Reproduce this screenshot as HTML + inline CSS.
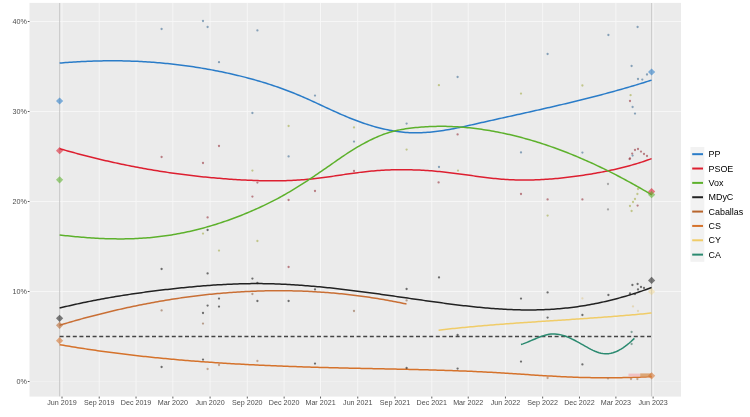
<!DOCTYPE html><html><head><meta charset="utf-8"><style>html,body{margin:0;padding:0;background:#fff;overflow:hidden}svg{display:block}text{font-family:"Liberation Sans",sans-serif}</style></head><body>
<svg width="750" height="417" viewBox="0 0 750 417">
<rect width="750" height="417" fill="#fff"/>
<rect x="29.5" y="2.9" width="651.5" height="393.7" fill="#EBEBEB"/>
<defs><clipPath id="pc"><rect x="29.5" y="2.9" width="651.5" height="393.7"/></clipPath></defs>
<g clip-path="url(#pc)">
<line x1="29.5" x2="681.0" y1="381.50" y2="381.50" stroke="#F1F1F1" stroke-width="0.9"/>
<line x1="29.5" x2="681.0" y1="291.50" y2="291.50" stroke="#F7F7F7" stroke-width="0.9"/>
<line x1="29.5" x2="681.0" y1="201.50" y2="201.50" stroke="#F7F7F7" stroke-width="0.9"/>
<line x1="29.5" x2="681.0" y1="111.50" y2="111.50" stroke="#F7F7F7" stroke-width="0.9"/>
<line x1="29.5" x2="681.0" y1="21.50" y2="21.50" stroke="#F7F7F7" stroke-width="0.9"/>
<line x1="62.00" x2="62.00" y1="2.9" y2="396.6" stroke="#F7F7F7" stroke-width="0.9"/>
<line x1="99.22" x2="99.22" y1="2.9" y2="396.6" stroke="#F7F7F7" stroke-width="0.9"/>
<line x1="136.04" x2="136.04" y1="2.9" y2="396.6" stroke="#F7F7F7" stroke-width="0.9"/>
<line x1="172.86" x2="172.86" y1="2.9" y2="396.6" stroke="#F7F7F7" stroke-width="0.9"/>
<line x1="210.08" x2="210.08" y1="2.9" y2="396.6" stroke="#F7F7F7" stroke-width="0.9"/>
<line x1="247.31" x2="247.31" y1="2.9" y2="396.6" stroke="#F7F7F7" stroke-width="0.9"/>
<line x1="284.13" x2="284.13" y1="2.9" y2="396.6" stroke="#F7F7F7" stroke-width="0.9"/>
<line x1="320.54" x2="320.54" y1="2.9" y2="396.6" stroke="#F7F7F7" stroke-width="0.9"/>
<line x1="357.76" x2="357.76" y1="2.9" y2="396.6" stroke="#F7F7F7" stroke-width="0.9"/>
<line x1="394.99" x2="394.99" y1="2.9" y2="396.6" stroke="#F7F7F7" stroke-width="0.9"/>
<line x1="431.80" x2="431.80" y1="2.9" y2="396.6" stroke="#F7F7F7" stroke-width="0.9"/>
<line x1="468.22" x2="468.22" y1="2.9" y2="396.6" stroke="#F7F7F7" stroke-width="0.9"/>
<line x1="505.44" x2="505.44" y1="2.9" y2="396.6" stroke="#F7F7F7" stroke-width="0.9"/>
<line x1="542.66" x2="542.66" y1="2.9" y2="396.6" stroke="#F7F7F7" stroke-width="0.9"/>
<line x1="579.48" x2="579.48" y1="2.9" y2="396.6" stroke="#F7F7F7" stroke-width="0.9"/>
<line x1="615.90" x2="615.90" y1="2.9" y2="396.6" stroke="#F7F7F7" stroke-width="0.9"/>
<line x1="653.12" x2="653.12" y1="2.9" y2="396.6" stroke="#F7F7F7" stroke-width="0.9"/>
<line x1="59.60" x2="59.60" y1="2.9" y2="396.6" stroke="#C0C0C0" stroke-width="0.8"/>
<line x1="651.60" x2="651.60" y1="2.9" y2="396.6" stroke="#C0C0C0" stroke-width="0.8"/>
<line x1="59.6" x2="651.6" y1="336.5" y2="336.5" stroke="#454545" stroke-width="1.45" stroke-dasharray="4 2.6"/>
<path d="M59.60,63.12 L61.60,62.94 L63.60,62.78 L65.60,62.62 L67.60,62.46 L69.60,62.32 L71.60,62.18 L73.60,62.04 L75.60,61.91 L77.60,61.79 L79.60,61.68 L81.60,61.57 L83.60,61.47 L85.60,61.38 L87.60,61.29 L89.60,61.21 L91.60,61.14 L93.60,61.07 L95.60,61.01 L97.60,60.96 L99.60,60.91 L101.60,60.88 L103.60,60.84 L105.60,60.82 L107.60,60.80 L109.60,60.79 L111.60,60.78 L113.60,60.79 L115.60,60.80 L117.60,60.81 L119.60,60.84 L121.60,60.87 L123.60,60.91 L125.60,60.95 L127.60,61.00 L129.60,61.06 L131.60,61.13 L133.60,61.20 L135.60,61.28 L137.60,61.37 L139.60,61.47 L141.60,61.57 L143.60,61.68 L145.60,61.80 L147.60,61.92 L149.60,62.05 L151.60,62.19 L153.60,62.34 L155.60,62.49 L157.60,62.66 L159.60,62.82 L161.60,63.00 L163.60,63.18 L165.60,63.38 L167.60,63.57 L169.60,63.78 L171.60,63.99 L173.60,64.22 L175.60,64.45 L177.60,64.68 L179.60,64.93 L181.60,65.18 L183.60,65.44 L185.60,65.70 L187.60,65.98 L189.60,66.26 L191.60,66.55 L193.60,66.85 L195.60,67.16 L197.60,67.47 L199.60,67.79 L201.60,68.12 L203.60,68.46 L205.60,68.80 L207.60,69.15 L209.60,69.51 L211.60,69.88 L213.60,70.26 L215.60,70.64 L217.60,71.04 L219.60,71.44 L221.60,71.84 L223.60,72.26 L225.60,72.69 L227.60,73.12 L229.60,73.56 L231.60,74.01 L233.60,74.46 L235.60,74.93 L237.60,75.40 L239.60,75.89 L241.60,76.38 L243.60,76.88 L245.60,77.39 L247.60,77.91 L249.60,78.45 L251.60,78.99 L253.60,79.54 L255.60,80.10 L257.60,80.67 L259.60,81.26 L261.60,81.85 L263.60,82.46 L265.60,83.08 L267.60,83.70 L269.60,84.35 L271.60,85.00 L273.60,85.67 L275.60,86.34 L277.60,87.03 L279.60,87.74 L281.60,88.46 L283.60,89.19 L285.60,89.93 L287.60,90.69 L289.60,91.46 L291.60,92.24 L293.60,93.04 L295.60,93.86 L297.60,94.69 L299.60,95.53 L301.60,96.39 L303.60,97.26 L305.60,98.14 L307.60,99.03 L309.60,99.93 L311.60,100.84 L313.60,101.76 L315.60,102.68 L317.60,103.60 L319.60,104.53 L321.60,105.46 L323.60,106.39 L325.60,107.32 L327.60,108.24 L329.60,109.17 L331.60,110.09 L333.60,111.00 L335.60,111.90 L337.60,112.80 L339.60,113.69 L341.60,114.57 L343.60,115.43 L345.60,116.28 L347.60,117.12 L349.60,117.94 L351.60,118.75 L353.60,119.54 L355.60,120.31 L357.60,121.06 L359.60,121.79 L361.60,122.50 L363.60,123.20 L365.60,123.87 L367.60,124.52 L369.60,125.15 L371.60,125.76 L373.60,126.35 L375.60,126.92 L377.60,127.46 L379.60,127.98 L381.60,128.47 L383.60,128.94 L385.60,129.39 L387.60,129.81 L389.60,130.20 L391.60,130.57 L393.60,130.91 L395.60,131.23 L397.60,131.52 L399.60,131.78 L401.60,132.01 L403.60,132.21 L405.60,132.38 L407.60,132.52 L409.60,132.64 L411.60,132.72 L413.60,132.77 L415.60,132.79 L417.60,132.78 L419.60,132.74 L421.60,132.68 L423.60,132.59 L425.60,132.47 L427.60,132.33 L429.60,132.16 L431.60,131.97 L433.60,131.76 L435.60,131.53 L437.60,131.28 L439.60,131.01 L441.60,130.72 L443.60,130.41 L445.60,130.09 L447.60,129.75 L449.60,129.40 L451.60,129.03 L453.60,128.66 L455.60,128.27 L457.60,127.87 L459.60,127.46 L461.60,127.04 L463.60,126.62 L465.60,126.18 L467.60,125.75 L469.60,125.30 L471.60,124.86 L473.60,124.41 L475.60,123.96 L477.60,123.51 L479.60,123.05 L481.60,122.60 L483.60,122.15 L485.60,121.70 L487.60,121.26 L489.60,120.81 L491.60,120.36 L493.60,119.92 L495.60,119.47 L497.60,119.03 L499.60,118.58 L501.60,118.14 L503.60,117.70 L505.60,117.25 L507.60,116.81 L509.60,116.37 L511.60,115.92 L513.60,115.48 L515.60,115.04 L517.60,114.59 L519.60,114.15 L521.60,113.70 L523.60,113.26 L525.60,112.81 L527.60,112.37 L529.60,111.92 L531.60,111.47 L533.60,111.03 L535.60,110.58 L537.60,110.13 L539.60,109.67 L541.60,109.22 L543.60,108.77 L545.60,108.31 L547.60,107.85 L549.60,107.40 L551.60,106.94 L553.60,106.47 L555.60,106.01 L557.60,105.55 L559.60,105.08 L561.60,104.61 L563.60,104.14 L565.60,103.66 L567.60,103.19 L569.60,102.71 L571.60,102.23 L573.60,101.75 L575.60,101.26 L577.60,100.77 L579.60,100.28 L581.60,99.79 L583.60,99.29 L585.60,98.79 L587.60,98.29 L589.60,97.78 L591.60,97.28 L593.60,96.76 L595.60,96.25 L597.60,95.73 L599.60,95.21 L601.60,94.68 L603.60,94.15 L605.60,93.62 L607.60,93.08 L609.60,92.54 L611.60,91.99 L613.60,91.45 L615.60,90.89 L617.60,90.34 L619.60,89.77 L621.60,89.21 L623.60,88.64 L625.60,88.06 L627.60,87.48 L629.60,86.90 L631.60,86.31 L633.60,85.72 L635.60,85.12 L637.60,84.51 L639.60,83.90 L641.60,83.29 L643.60,82.67 L645.60,82.05 L647.60,81.41 L649.60,80.78 L651.60,80.14" fill="none" stroke="#2A7CC8" stroke-width="1.5" stroke-linecap="butt" stroke-linejoin="round"/>
<path d="M59.60,148.63 L61.60,149.21 L63.60,149.79 L65.60,150.36 L67.60,150.93 L69.60,151.49 L71.60,152.04 L73.60,152.59 L75.60,153.14 L77.60,153.67 L79.60,154.21 L81.60,154.74 L83.60,155.26 L85.60,155.78 L87.60,156.29 L89.60,156.79 L91.60,157.29 L93.60,157.79 L95.60,158.28 L97.60,158.76 L99.60,159.24 L101.60,159.72 L103.60,160.18 L105.60,160.65 L107.60,161.10 L109.60,161.56 L111.60,162.00 L113.60,162.44 L115.60,162.88 L117.60,163.31 L119.60,163.74 L121.60,164.16 L123.60,164.57 L125.60,164.98 L127.60,165.39 L129.60,165.78 L131.60,166.18 L133.60,166.57 L135.60,166.95 L137.60,167.33 L139.60,167.70 L141.60,168.07 L143.60,168.43 L145.60,168.79 L147.60,169.14 L149.60,169.48 L151.60,169.82 L153.60,170.16 L155.60,170.49 L157.60,170.82 L159.60,171.14 L161.60,171.45 L163.60,171.76 L165.60,172.07 L167.60,172.37 L169.60,172.66 L171.60,172.95 L173.60,173.23 L175.60,173.51 L177.60,173.79 L179.60,174.06 L181.60,174.32 L183.60,174.58 L185.60,174.83 L187.60,175.08 L189.60,175.32 L191.60,175.56 L193.60,175.79 L195.60,176.02 L197.60,176.25 L199.60,176.46 L201.60,176.68 L203.60,176.88 L205.60,177.09 L207.60,177.29 L209.60,177.48 L211.60,177.67 L213.60,177.85 L215.60,178.03 L217.60,178.20 L219.60,178.37 L221.60,178.53 L223.60,178.69 L225.60,178.84 L227.60,178.99 L229.60,179.13 L231.60,179.27 L233.60,179.40 L235.60,179.53 L237.60,179.66 L239.60,179.77 L241.60,179.89 L243.60,179.99 L245.60,180.10 L247.60,180.19 L249.60,180.28 L251.60,180.36 L253.60,180.44 L255.60,180.51 L257.60,180.57 L259.60,180.63 L261.60,180.68 L263.60,180.72 L265.60,180.75 L267.60,180.78 L269.60,180.80 L271.60,180.81 L273.60,180.81 L275.60,180.80 L277.60,180.78 L279.60,180.76 L281.60,180.72 L283.60,180.68 L285.60,180.63 L287.60,180.56 L289.60,180.49 L291.60,180.41 L293.60,180.31 L295.60,180.21 L297.60,180.09 L299.60,179.97 L301.60,179.83 L303.60,179.68 L305.60,179.52 L307.60,179.35 L309.60,179.17 L311.60,178.97 L313.60,178.76 L315.60,178.54 L317.60,178.31 L319.60,178.07 L321.60,177.81 L323.60,177.55 L325.60,177.28 L327.60,177.00 L329.60,176.72 L331.60,176.43 L333.60,176.13 L335.60,175.83 L337.60,175.54 L339.60,175.23 L341.60,174.93 L343.60,174.63 L345.60,174.34 L347.60,174.04 L349.60,173.75 L351.60,173.46 L353.60,173.18 L355.60,172.91 L357.60,172.64 L359.60,172.38 L361.60,172.14 L363.60,171.90 L365.60,171.67 L367.60,171.46 L369.60,171.26 L371.60,171.08 L373.60,170.90 L375.60,170.74 L377.60,170.59 L379.60,170.45 L381.60,170.32 L383.60,170.21 L385.60,170.11 L387.60,170.02 L389.60,169.94 L391.60,169.87 L393.60,169.82 L395.60,169.77 L397.60,169.74 L399.60,169.72 L401.60,169.71 L403.60,169.71 L405.60,169.72 L407.60,169.75 L409.60,169.78 L411.60,169.83 L413.60,169.88 L415.60,169.95 L417.60,170.03 L419.60,170.12 L421.60,170.22 L423.60,170.33 L425.60,170.45 L427.60,170.58 L429.60,170.72 L431.60,170.87 L433.60,171.03 L435.60,171.20 L437.60,171.38 L439.60,171.57 L441.60,171.77 L443.60,171.98 L445.60,172.20 L447.60,172.43 L449.60,172.67 L451.60,172.91 L453.60,173.16 L455.60,173.42 L457.60,173.69 L459.60,173.95 L461.60,174.23 L463.60,174.50 L465.60,174.78 L467.60,175.05 L469.60,175.33 L471.60,175.61 L473.60,175.88 L475.60,176.16 L477.60,176.43 L479.60,176.69 L481.60,176.95 L483.60,177.21 L485.60,177.46 L487.60,177.70 L489.60,177.94 L491.60,178.16 L493.60,178.38 L495.60,178.59 L497.60,178.78 L499.60,178.96 L501.60,179.13 L503.60,179.29 L505.60,179.43 L507.60,179.56 L509.60,179.67 L511.60,179.77 L513.60,179.85 L515.60,179.92 L517.60,179.97 L519.60,180.01 L521.60,180.04 L523.60,180.05 L525.60,180.05 L527.60,180.04 L529.60,180.01 L531.60,179.97 L533.60,179.92 L535.60,179.86 L537.60,179.78 L539.60,179.69 L541.60,179.60 L543.60,179.48 L545.60,179.36 L547.60,179.23 L549.60,179.09 L551.60,178.93 L553.60,178.77 L555.60,178.59 L557.60,178.40 L559.60,178.21 L561.60,178.00 L563.60,177.79 L565.60,177.57 L567.60,177.33 L569.60,177.09 L571.60,176.84 L573.60,176.58 L575.60,176.31 L577.60,176.04 L579.60,175.76 L581.60,175.46 L583.60,175.17 L585.60,174.86 L587.60,174.55 L589.60,174.23 L591.60,173.90 L593.60,173.56 L595.60,173.22 L597.60,172.86 L599.60,172.50 L601.60,172.12 L603.60,171.74 L605.60,171.35 L607.60,170.94 L609.60,170.53 L611.60,170.10 L613.60,169.66 L615.60,169.21 L617.60,168.75 L619.60,168.27 L621.60,167.78 L623.60,167.28 L625.60,166.76 L627.60,166.23 L629.60,165.69 L631.60,165.13 L633.60,164.55 L635.60,163.96 L637.60,163.35 L639.60,162.73 L641.60,162.09 L643.60,161.44 L645.60,160.76 L647.60,160.07 L649.60,159.36 L651.60,158.63" fill="none" stroke="#DD1F30" stroke-width="1.5" stroke-linecap="butt" stroke-linejoin="round"/>
<path d="M59.60,234.95 L61.60,235.18 L63.60,235.41 L65.60,235.63 L67.60,235.85 L69.60,236.06 L71.60,236.26 L73.60,236.46 L75.60,236.65 L77.60,236.84 L79.60,237.02 L81.60,237.19 L83.60,237.35 L85.60,237.51 L87.60,237.66 L89.60,237.80 L91.60,237.94 L93.60,238.06 L95.60,238.18 L97.60,238.29 L99.60,238.39 L101.60,238.48 L103.60,238.57 L105.60,238.64 L107.60,238.71 L109.60,238.76 L111.60,238.81 L113.60,238.85 L115.60,238.87 L117.60,238.89 L119.60,238.90 L121.60,238.89 L123.60,238.88 L125.60,238.85 L127.60,238.82 L129.60,238.77 L131.60,238.71 L133.60,238.64 L135.60,238.56 L137.60,238.46 L139.60,238.36 L141.60,238.24 L143.60,238.11 L145.60,237.97 L147.60,237.81 L149.60,237.64 L151.60,237.46 L153.60,237.27 L155.60,237.06 L157.60,236.84 L159.60,236.60 L161.60,236.35 L163.60,236.09 L165.60,235.81 L167.60,235.52 L169.60,235.22 L171.60,234.90 L173.60,234.57 L175.60,234.22 L177.60,233.86 L179.60,233.49 L181.60,233.10 L183.60,232.70 L185.60,232.28 L187.60,231.85 L189.60,231.41 L191.60,230.96 L193.60,230.49 L195.60,230.00 L197.60,229.51 L199.60,229.00 L201.60,228.47 L203.60,227.93 L205.60,227.38 L207.60,226.82 L209.60,226.24 L211.60,225.65 L213.60,225.05 L215.60,224.43 L217.60,223.80 L219.60,223.15 L221.60,222.49 L223.60,221.82 L225.60,221.14 L227.60,220.44 L229.60,219.73 L231.60,219.00 L233.60,218.27 L235.60,217.52 L237.60,216.75 L239.60,215.98 L241.60,215.19 L243.60,214.38 L245.60,213.57 L247.60,212.74 L249.60,211.89 L251.60,211.04 L253.60,210.17 L255.60,209.29 L257.60,208.39 L259.60,207.48 L261.60,206.55 L263.60,205.61 L265.60,204.65 L267.60,203.68 L269.60,202.69 L271.60,201.68 L273.60,200.66 L275.60,199.61 L277.60,198.55 L279.60,197.47 L281.60,196.37 L283.60,195.25 L285.60,194.11 L287.60,192.95 L289.60,191.78 L291.60,190.58 L293.60,189.38 L295.60,188.15 L297.60,186.91 L299.60,185.66 L301.60,184.39 L303.60,183.12 L305.60,181.82 L307.60,180.52 L309.60,179.21 L311.60,177.89 L313.60,176.55 L315.60,175.21 L317.60,173.85 L319.60,172.49 L321.60,171.12 L323.60,169.74 L325.60,168.35 L327.60,166.96 L329.60,165.56 L331.60,164.15 L333.60,162.75 L335.60,161.35 L337.60,159.96 L339.60,158.57 L341.60,157.20 L343.60,155.84 L345.60,154.50 L347.60,153.19 L349.60,151.89 L351.60,150.62 L353.60,149.38 L355.60,148.16 L357.60,146.97 L359.60,145.81 L361.60,144.68 L363.60,143.57 L365.60,142.50 L367.60,141.46 L369.60,140.45 L371.60,139.47 L373.60,138.52 L375.60,137.61 L377.60,136.73 L379.60,135.88 L381.60,135.08 L383.60,134.32 L385.60,133.60 L387.60,132.93 L389.60,132.31 L391.60,131.73 L393.60,131.20 L395.60,130.72 L397.60,130.27 L399.60,129.86 L401.60,129.48 L403.60,129.14 L405.60,128.82 L407.60,128.53 L409.60,128.27 L411.60,128.02 L413.60,127.79 L415.60,127.58 L417.60,127.39 L419.60,127.21 L421.60,127.05 L423.60,126.90 L425.60,126.78 L427.60,126.66 L429.60,126.57 L431.60,126.49 L433.60,126.42 L435.60,126.38 L437.60,126.34 L439.60,126.33 L441.60,126.32 L443.60,126.34 L445.60,126.37 L447.60,126.41 L449.60,126.47 L451.60,126.54 L453.60,126.63 L455.60,126.74 L457.60,126.85 L459.60,126.98 L461.60,127.13 L463.60,127.29 L465.60,127.47 L467.60,127.65 L469.60,127.86 L471.60,128.07 L473.60,128.30 L475.60,128.54 L477.60,128.80 L479.60,129.07 L481.60,129.35 L483.60,129.64 L485.60,129.95 L487.60,130.27 L489.60,130.60 L491.60,130.95 L493.60,131.30 L495.60,131.67 L497.60,132.06 L499.60,132.45 L501.60,132.86 L503.60,133.28 L505.60,133.71 L507.60,134.15 L509.60,134.60 L511.60,135.07 L513.60,135.55 L515.60,136.04 L517.60,136.54 L519.60,137.05 L521.60,137.58 L523.60,138.12 L525.60,138.67 L527.60,139.23 L529.60,139.80 L531.60,140.38 L533.60,140.98 L535.60,141.59 L537.60,142.20 L539.60,142.83 L541.60,143.47 L543.60,144.12 L545.60,144.79 L547.60,145.46 L549.60,146.15 L551.60,146.84 L553.60,147.55 L555.60,148.27 L557.60,149.00 L559.60,149.74 L561.60,150.49 L563.60,151.25 L565.60,152.02 L567.60,152.81 L569.60,153.60 L571.60,154.41 L573.60,155.22 L575.60,156.05 L577.60,156.88 L579.60,157.73 L581.60,158.58 L583.60,159.45 L585.60,160.33 L587.60,161.22 L589.60,162.12 L591.60,163.02 L593.60,163.94 L595.60,164.87 L597.60,165.81 L599.60,166.76 L601.60,167.71 L603.60,168.68 L605.60,169.66 L607.60,170.65 L609.60,171.65 L611.60,172.65 L613.60,173.67 L615.60,174.70 L617.60,175.73 L619.60,176.78 L621.60,177.83 L623.60,178.90 L625.60,179.97 L627.60,181.06 L629.60,182.15 L631.60,183.25 L633.60,184.36 L635.60,185.48 L637.60,186.61 L639.60,187.75 L641.60,188.90 L643.60,190.05 L645.60,191.22 L647.60,192.39 L649.60,193.58 L651.60,194.77" fill="none" stroke="#5DB12C" stroke-width="1.5" stroke-linecap="butt" stroke-linejoin="round"/>
<path d="M59.60,308.01 L61.60,307.53 L63.60,307.05 L65.60,306.58 L67.60,306.11 L69.60,305.65 L71.60,305.20 L73.60,304.75 L75.60,304.31 L77.60,303.87 L79.60,303.44 L81.60,303.02 L83.60,302.60 L85.60,302.18 L87.60,301.77 L89.60,301.37 L91.60,300.97 L93.60,300.58 L95.60,300.19 L97.60,299.81 L99.60,299.44 L101.60,299.06 L103.60,298.70 L105.60,298.34 L107.60,297.98 L109.60,297.63 L111.60,297.28 L113.60,296.94 L115.60,296.61 L117.60,296.28 L119.60,295.95 L121.60,295.63 L123.60,295.31 L125.60,294.99 L127.60,294.69 L129.60,294.38 L131.60,294.08 L133.60,293.79 L135.60,293.49 L137.60,293.21 L139.60,292.92 L141.60,292.65 L143.60,292.37 L145.60,292.10 L147.60,291.83 L149.60,291.57 L151.60,291.31 L153.60,291.06 L155.60,290.81 L157.60,290.56 L159.60,290.32 L161.60,290.08 L163.60,289.84 L165.60,289.61 L167.60,289.38 L169.60,289.15 L171.60,288.93 L173.60,288.71 L175.60,288.49 L177.60,288.28 L179.60,288.07 L181.60,287.87 L183.60,287.66 L185.60,287.46 L187.60,287.27 L189.60,287.08 L191.60,286.89 L193.60,286.71 L195.60,286.53 L197.60,286.35 L199.60,286.18 L201.60,286.02 L203.60,285.86 L205.60,285.70 L207.60,285.55 L209.60,285.40 L211.60,285.26 L213.60,285.12 L215.60,284.99 L217.60,284.87 L219.60,284.74 L221.60,284.63 L223.60,284.52 L225.60,284.41 L227.60,284.32 L229.60,284.22 L231.60,284.14 L233.60,284.06 L235.60,283.98 L237.60,283.91 L239.60,283.85 L241.60,283.80 L243.60,283.75 L245.60,283.71 L247.60,283.67 L249.60,283.64 L251.60,283.62 L253.60,283.61 L255.60,283.60 L257.60,283.60 L259.60,283.61 L261.60,283.62 L263.60,283.64 L265.60,283.67 L267.60,283.71 L269.60,283.75 L271.60,283.80 L273.60,283.86 L275.60,283.93 L277.60,284.00 L279.60,284.08 L281.60,284.16 L283.60,284.25 L285.60,284.35 L287.60,284.45 L289.60,284.56 L291.60,284.68 L293.60,284.80 L295.60,284.92 L297.60,285.06 L299.60,285.19 L301.60,285.34 L303.60,285.49 L305.60,285.64 L307.60,285.80 L309.60,285.96 L311.60,286.13 L313.60,286.31 L315.60,286.49 L317.60,286.67 L319.60,286.86 L321.60,287.05 L323.60,287.25 L325.60,287.45 L327.60,287.65 L329.60,287.86 L331.60,288.08 L333.60,288.29 L335.60,288.51 L337.60,288.74 L339.60,288.97 L341.60,289.20 L343.60,289.43 L345.60,289.67 L347.60,289.91 L349.60,290.16 L351.60,290.40 L353.60,290.65 L355.60,290.91 L357.60,291.16 L359.60,291.42 L361.60,291.68 L363.60,291.94 L365.60,292.20 L367.60,292.47 L369.60,292.74 L371.60,293.01 L373.60,293.28 L375.60,293.56 L377.60,293.83 L379.60,294.11 L381.60,294.39 L383.60,294.67 L385.60,294.95 L387.60,295.23 L389.60,295.51 L391.60,295.80 L393.60,296.08 L395.60,296.37 L397.60,296.65 L399.60,296.94 L401.60,297.22 L403.60,297.51 L405.60,297.80 L407.60,298.08 L409.60,298.37 L411.60,298.66 L413.60,298.94 L415.60,299.23 L417.60,299.52 L419.60,299.80 L421.60,300.09 L423.60,300.37 L425.60,300.65 L427.60,300.93 L429.60,301.21 L431.60,301.49 L433.60,301.77 L435.60,302.05 L437.60,302.32 L439.60,302.59 L441.60,302.86 L443.60,303.13 L445.60,303.40 L447.60,303.66 L449.60,303.92 L451.60,304.17 L453.60,304.43 L455.60,304.68 L457.60,304.92 L459.60,305.17 L461.60,305.40 L463.60,305.64 L465.60,305.87 L467.60,306.09 L469.60,306.32 L471.60,306.53 L473.60,306.74 L475.60,306.95 L477.60,307.15 L479.60,307.35 L481.60,307.54 L483.60,307.72 L485.60,307.90 L487.60,308.07 L489.60,308.23 L491.60,308.39 L493.60,308.55 L495.60,308.69 L497.60,308.83 L499.60,308.96 L501.60,309.08 L503.60,309.20 L505.60,309.31 L507.60,309.41 L509.60,309.50 L511.60,309.59 L513.60,309.66 L515.60,309.73 L517.60,309.79 L519.60,309.84 L521.60,309.88 L523.60,309.91 L525.60,309.93 L527.60,309.94 L529.60,309.95 L531.60,309.94 L533.60,309.92 L535.60,309.89 L537.60,309.85 L539.60,309.81 L541.60,309.75 L543.60,309.68 L545.60,309.59 L547.60,309.50 L549.60,309.39 L551.60,309.28 L553.60,309.15 L555.60,309.01 L557.60,308.86 L559.60,308.69 L561.60,308.51 L563.60,308.32 L565.60,308.12 L567.60,307.91 L569.60,307.68 L571.60,307.44 L573.60,307.18 L575.60,306.92 L577.60,306.64 L579.60,306.35 L581.60,306.05 L583.60,305.73 L585.60,305.40 L587.60,305.06 L589.60,304.71 L591.60,304.34 L593.60,303.96 L595.60,303.57 L597.60,303.17 L599.60,302.75 L601.60,302.32 L603.60,301.88 L605.60,301.42 L607.60,300.96 L609.60,300.48 L611.60,299.99 L613.60,299.48 L615.60,298.96 L617.60,298.43 L619.60,297.89 L621.60,297.34 L623.60,296.77 L625.60,296.19 L627.60,295.60 L629.60,294.99 L631.60,294.37 L633.60,293.74 L635.60,293.10 L637.60,292.44 L639.60,291.77 L641.60,291.09 L643.60,290.40 L645.60,289.69 L647.60,288.97 L649.60,288.24 L651.60,287.50" fill="none" stroke="#222222" stroke-width="1.5" stroke-linecap="butt" stroke-linejoin="round"/>
<path d="M59.60,325.22 L61.60,324.62 L63.60,324.02 L65.60,323.43 L67.60,322.85 L69.60,322.27 L71.60,321.69 L73.60,321.12 L75.60,320.56 L77.60,320.00 L79.60,319.44 L81.60,318.89 L83.60,318.34 L85.60,317.80 L87.60,317.27 L89.60,316.73 L91.60,316.21 L93.60,315.69 L95.60,315.17 L97.60,314.66 L99.60,314.15 L101.60,313.65 L103.60,313.15 L105.60,312.66 L107.60,312.18 L109.60,311.69 L111.60,311.22 L113.60,310.75 L115.60,310.28 L117.60,309.82 L119.60,309.36 L121.60,308.91 L123.60,308.47 L125.60,308.03 L127.60,307.59 L129.60,307.16 L131.60,306.73 L133.60,306.31 L135.60,305.90 L137.60,305.49 L139.60,305.09 L141.60,304.69 L143.60,304.29 L145.60,303.91 L147.60,303.52 L149.60,303.15 L151.60,302.77 L153.60,302.41 L155.60,302.05 L157.60,301.69 L159.60,301.34 L161.60,300.99 L163.60,300.65 L165.60,300.32 L167.60,299.99 L169.60,299.67 L171.60,299.35 L173.60,299.04 L175.60,298.73 L177.60,298.43 L179.60,298.13 L181.60,297.84 L183.60,297.56 L185.60,297.28 L187.60,297.01 L189.60,296.74 L191.60,296.48 L193.60,296.22 L195.60,295.97 L197.60,295.72 L199.60,295.48 L201.60,295.25 L203.60,295.02 L205.60,294.80 L207.60,294.58 L209.60,294.37 L211.60,294.16 L213.60,293.97 L215.60,293.77 L217.60,293.58 L219.60,293.40 L221.60,293.23 L223.60,293.05 L225.60,292.89 L227.60,292.73 L229.60,292.58 L231.60,292.43 L233.60,292.29 L235.60,292.16 L237.60,292.03 L239.60,291.90 L241.60,291.79 L243.60,291.68 L245.60,291.57 L247.60,291.47 L249.60,291.38 L251.60,291.29 L253.60,291.21 L255.60,291.13 L257.60,291.07 L259.60,291.00 L261.60,290.95 L263.60,290.90 L265.60,290.85 L267.60,290.81 L269.60,290.78 L271.60,290.76 L273.60,290.74 L275.60,290.72 L277.60,290.71 L279.60,290.71 L281.60,290.72 L283.60,290.73 L285.60,290.75 L287.60,290.77 L289.60,290.80 L291.60,290.84 L293.60,290.88 L295.60,290.93 L297.60,290.99 L299.60,291.05 L301.60,291.12 L303.60,291.19 L305.60,291.27 L307.60,291.36 L309.60,291.45 L311.60,291.56 L313.60,291.66 L315.60,291.78 L317.60,291.90 L319.60,292.02 L321.60,292.16 L323.60,292.30 L325.60,292.44 L327.60,292.59 L329.60,292.75 L331.60,292.92 L333.60,293.09 L335.60,293.27 L337.60,293.46 L339.60,293.65 L341.60,293.85 L343.60,294.05 L345.60,294.27 L347.60,294.49 L349.60,294.71 L351.60,294.94 L353.60,295.18 L355.60,295.43 L357.60,295.68 L359.60,295.94 L361.60,296.21 L363.60,296.48 L365.60,296.76 L367.60,297.05 L369.60,297.34 L371.60,297.64 L373.60,297.95 L375.60,298.27 L377.60,298.59 L379.60,298.92 L381.60,299.25 L383.60,299.59 L385.60,299.94 L387.60,300.30 L389.60,300.66 L391.60,301.03 L393.60,301.41 L395.60,301.79 L397.60,302.19 L399.60,302.58 L401.60,302.99 L403.60,303.40 L405.60,303.82 L406.50,304.01" fill="none" stroke="#C96F35" stroke-width="1.5" stroke-linecap="butt" stroke-linejoin="round"/>
<path d="M59.60,344.67 L61.60,345.01 L63.60,345.36 L65.60,345.69 L67.60,346.03 L69.60,346.36 L71.60,346.69 L73.60,347.01 L75.60,347.33 L77.60,347.65 L79.60,347.96 L81.60,348.27 L83.60,348.58 L85.60,348.88 L87.60,349.18 L89.60,349.48 L91.60,349.78 L93.60,350.07 L95.60,350.36 L97.60,350.64 L99.60,350.92 L101.60,351.20 L103.60,351.48 L105.60,351.75 L107.60,352.02 L109.60,352.29 L111.60,352.55 L113.60,352.81 L115.60,353.07 L117.60,353.33 L119.60,353.58 L121.60,353.83 L123.60,354.07 L125.60,354.32 L127.60,354.56 L129.60,354.80 L131.60,355.03 L133.60,355.26 L135.60,355.49 L137.60,355.72 L139.60,355.94 L141.60,356.17 L143.60,356.38 L145.60,356.60 L147.60,356.81 L149.60,357.02 L151.60,357.23 L153.60,357.44 L155.60,357.64 L157.60,357.84 L159.60,358.04 L161.60,358.23 L163.60,358.43 L165.60,358.62 L167.60,358.81 L169.60,358.99 L171.60,359.17 L173.60,359.36 L175.60,359.53 L177.60,359.71 L179.60,359.88 L181.60,360.05 L183.60,360.22 L185.60,360.39 L187.60,360.56 L189.60,360.72 L191.60,360.88 L193.60,361.04 L195.60,361.19 L197.60,361.34 L199.60,361.50 L201.60,361.64 L203.60,361.79 L205.60,361.94 L207.60,362.08 L209.60,362.22 L211.60,362.36 L213.60,362.50 L215.60,362.63 L217.60,362.76 L219.60,362.90 L221.60,363.02 L223.60,363.15 L225.60,363.28 L227.60,363.40 L229.60,363.52 L231.60,363.64 L233.60,363.76 L235.60,363.88 L237.60,363.99 L239.60,364.10 L241.60,364.21 L243.60,364.32 L245.60,364.43 L247.60,364.53 L249.60,364.64 L251.60,364.74 L253.60,364.84 L255.60,364.94 L257.60,365.04 L259.60,365.13 L261.60,365.23 L263.60,365.32 L265.60,365.41 L267.60,365.50 L269.60,365.59 L271.60,365.68 L273.60,365.76 L275.60,365.85 L277.60,365.93 L279.60,366.01 L281.60,366.09 L283.60,366.17 L285.60,366.25 L287.60,366.32 L289.60,366.40 L291.60,366.47 L293.60,366.55 L295.60,366.62 L297.60,366.69 L299.60,366.75 L301.60,366.82 L303.60,366.89 L305.60,366.95 L307.60,367.02 L309.60,367.08 L311.60,367.14 L313.60,367.20 L315.60,367.26 L317.60,367.32 L319.60,367.38 L321.60,367.44 L323.60,367.49 L325.60,367.55 L327.60,367.60 L329.60,367.66 L331.60,367.71 L333.60,367.76 L335.60,367.81 L337.60,367.86 L339.60,367.91 L341.60,367.96 L343.60,368.01 L345.60,368.05 L347.60,368.10 L349.60,368.14 L351.60,368.19 L353.60,368.23 L355.60,368.28 L357.60,368.32 L359.60,368.36 L361.60,368.41 L363.60,368.45 L365.60,368.49 L367.60,368.53 L369.60,368.57 L371.60,368.61 L373.60,368.65 L375.60,368.69 L377.60,368.73 L379.60,368.77 L381.60,368.82 L383.60,368.86 L385.60,368.90 L387.60,368.94 L389.60,368.98 L391.60,369.02 L393.60,369.06 L395.60,369.10 L397.60,369.15 L399.60,369.19 L401.60,369.23 L403.60,369.28 L405.60,369.32 L407.60,369.37 L409.60,369.41 L411.60,369.46 L413.60,369.50 L415.60,369.55 L417.60,369.60 L419.60,369.65 L421.60,369.70 L423.60,369.75 L425.60,369.80 L427.60,369.86 L429.60,369.91 L431.60,369.97 L433.60,370.02 L435.60,370.08 L437.60,370.14 L439.60,370.20 L441.60,370.26 L443.60,370.32 L445.60,370.39 L447.60,370.45 L449.60,370.52 L451.60,370.59 L453.60,370.66 L455.60,370.73 L457.60,370.80 L459.60,370.88 L461.60,370.96 L463.60,371.04 L465.60,371.12 L467.60,371.20 L469.60,371.28 L471.60,371.37 L473.60,371.46 L475.60,371.55 L477.60,371.64 L479.60,371.74 L481.60,371.84 L483.60,371.93 L485.60,372.04 L487.60,372.14 L489.60,372.25 L491.60,372.36 L493.60,372.47 L495.60,372.58 L497.60,372.70 L499.60,372.81 L501.60,372.94 L503.60,373.06 L505.60,373.18 L507.60,373.31 L509.60,373.44 L511.60,373.56 L513.60,373.69 L515.60,373.82 L517.60,373.95 L519.60,374.09 L521.60,374.22 L523.60,374.35 L525.60,374.48 L527.60,374.61 L529.60,374.74 L531.60,374.88 L533.60,375.01 L535.60,375.13 L537.60,375.26 L539.60,375.39 L541.60,375.51 L543.60,375.64 L545.60,375.76 L547.60,375.88 L549.60,376.00 L551.60,376.11 L553.60,376.22 L555.60,376.33 L557.60,376.44 L559.60,376.55 L561.60,376.65 L563.60,376.74 L565.60,376.84 L567.60,376.93 L569.60,377.01 L571.60,377.09 L573.60,377.17 L575.60,377.24 L577.60,377.31 L579.60,377.38 L581.60,377.43 L583.60,377.49 L585.60,377.54 L587.60,377.58 L589.60,377.62 L591.60,377.66 L593.60,377.69 L595.60,377.72 L597.60,377.74 L599.60,377.76 L601.60,377.77 L603.60,377.78 L605.60,377.78 L607.60,377.78 L609.60,377.78 L611.60,377.77 L613.60,377.75 L615.60,377.73 L617.60,377.71 L619.60,377.68 L621.60,377.65 L623.60,377.62 L625.60,377.57 L627.60,377.53 L629.60,377.48 L631.60,377.43 L633.60,377.37 L635.60,377.30 L637.60,377.24 L639.60,377.16 L641.60,377.09 L643.60,377.01 L645.60,376.92 L647.60,376.83 L649.60,376.74 L651.60,376.64" fill="none" stroke="#D5722B" stroke-width="1.5" stroke-linecap="butt" stroke-linejoin="round"/>
<path d="M438.60,330.15 L440.60,329.92 L442.60,329.69 L444.60,329.47 L446.60,329.25 L448.60,329.03 L450.60,328.81 L452.60,328.60 L454.60,328.39 L456.60,328.19 L458.60,327.98 L460.60,327.78 L462.60,327.59 L464.60,327.39 L466.60,327.20 L468.60,327.01 L470.60,326.82 L472.60,326.64 L474.60,326.46 L476.60,326.28 L478.60,326.10 L480.60,325.93 L482.60,325.76 L484.60,325.59 L486.60,325.42 L488.60,325.26 L490.60,325.09 L492.60,324.93 L494.60,324.77 L496.60,324.61 L498.60,324.46 L500.60,324.30 L502.60,324.15 L504.60,324.00 L506.60,323.85 L508.60,323.70 L510.60,323.55 L512.60,323.41 L514.60,323.26 L516.60,323.12 L518.60,322.98 L520.60,322.84 L522.60,322.70 L524.60,322.56 L526.60,322.42 L528.60,322.29 L530.60,322.15 L532.60,322.01 L534.60,321.88 L536.60,321.75 L538.60,321.61 L540.60,321.48 L542.60,321.35 L544.60,321.21 L546.60,321.08 L548.60,320.95 L550.60,320.82 L552.60,320.69 L554.60,320.55 L556.60,320.42 L558.60,320.29 L560.60,320.16 L562.60,320.03 L564.60,319.89 L566.60,319.76 L568.60,319.63 L570.60,319.50 L572.60,319.36 L574.60,319.23 L576.60,319.09 L578.60,318.96 L580.60,318.82 L582.60,318.68 L584.60,318.54 L586.60,318.41 L588.60,318.27 L590.60,318.12 L592.60,317.98 L594.60,317.84 L596.60,317.69 L598.60,317.55 L600.60,317.40 L602.60,317.25 L604.60,317.10 L606.60,316.95 L608.60,316.80 L610.60,316.64 L612.60,316.49 L614.60,316.33 L616.60,316.17 L618.60,316.00 L620.60,315.84 L622.60,315.67 L624.60,315.51 L626.60,315.34 L628.60,315.16 L630.60,314.99 L632.60,314.81 L634.60,314.63 L636.60,314.45 L638.60,314.26 L640.60,314.08 L642.60,313.89 L644.60,313.69 L646.60,313.50 L648.60,313.30 L650.60,313.10 L651.60,313.00" fill="none" stroke="#F0CC68" stroke-width="1.5" stroke-linecap="butt" stroke-linejoin="round"/>
<path d="M521.00,344.51 L523.00,343.85 L525.00,343.12 L527.00,342.34 L529.00,341.51 L531.00,340.66 L533.00,339.80 L535.00,338.94 L537.00,338.10 L539.00,337.30 L541.00,336.55 L543.00,335.86 L545.00,335.25 L547.00,334.74 L549.00,334.35 L551.00,334.07 L553.00,333.94 L555.00,333.96 L557.00,334.13 L559.00,334.44 L561.00,334.87 L563.00,335.42 L565.00,336.07 L567.00,336.82 L569.00,337.65 L571.00,338.55 L573.00,339.52 L575.00,340.54 L577.00,341.60 L579.00,342.70 L581.00,343.82 L583.00,344.95 L585.00,346.08 L587.00,347.20 L589.00,348.29 L591.00,349.33 L593.00,350.31 L595.00,351.21 L597.00,352.00 L599.00,352.67 L601.00,353.20 L603.00,353.57 L605.00,353.77 L607.00,353.79 L609.00,353.63 L611.00,353.29 L613.00,352.77 L615.00,352.08 L617.00,351.23 L619.00,350.22 L621.00,349.07 L623.00,347.78 L625.00,346.37 L627.00,344.84 L629.00,343.21 L631.00,341.49 L633.00,339.67 L634.40,338.36" fill="none" stroke="#2B8A70" stroke-width="1.5" stroke-linecap="butt" stroke-linejoin="round"/>
<circle cx="161.6" cy="29.0" r="1.15" fill="#4B749A" fill-opacity="0.62"/>
<circle cx="203.0" cy="21.0" r="1.15" fill="#4B749A" fill-opacity="0.62"/>
<circle cx="207.6" cy="27.0" r="1.15" fill="#4B749A" fill-opacity="0.62"/>
<circle cx="219.0" cy="62.2" r="1.15" fill="#4B749A" fill-opacity="0.62"/>
<circle cx="257.4" cy="30.4" r="1.15" fill="#4B749A" fill-opacity="0.62"/>
<circle cx="252.4" cy="113.0" r="1.15" fill="#4B749A" fill-opacity="0.62"/>
<circle cx="315.0" cy="95.6" r="1.15" fill="#4B749A" fill-opacity="0.62"/>
<circle cx="406.6" cy="123.6" r="1.15" fill="#4B749A" fill-opacity="0.62"/>
<circle cx="457.6" cy="77.0" r="1.15" fill="#4B749A" fill-opacity="0.62"/>
<circle cx="547.6" cy="54.0" r="1.15" fill="#4B749A" fill-opacity="0.62"/>
<circle cx="608.4" cy="35.0" r="1.15" fill="#4B749A" fill-opacity="0.62"/>
<circle cx="637.6" cy="27.0" r="1.15" fill="#4B749A" fill-opacity="0.62"/>
<circle cx="631.6" cy="66.0" r="1.15" fill="#4B749A" fill-opacity="0.62"/>
<circle cx="638.0" cy="79.0" r="1.15" fill="#4B749A" fill-opacity="0.62"/>
<circle cx="642.3" cy="79.6" r="1.15" fill="#4B749A" fill-opacity="0.62"/>
<circle cx="647.0" cy="74.5" r="1.15" fill="#4B749A" fill-opacity="0.62"/>
<circle cx="521.0" cy="152.4" r="1.15" fill="#4B749A" fill-opacity="0.62"/>
<circle cx="582.4" cy="152.6" r="1.15" fill="#4B749A" fill-opacity="0.62"/>
<circle cx="288.6" cy="156.4" r="1.15" fill="#4B749A" fill-opacity="0.62"/>
<circle cx="354.0" cy="141.6" r="1.15" fill="#4B749A" fill-opacity="0.62"/>
<circle cx="439.0" cy="167.0" r="1.15" fill="#4B749A" fill-opacity="0.62"/>
<circle cx="632.6" cy="107.0" r="1.15" fill="#4B749A" fill-opacity="0.62"/>
<circle cx="635.0" cy="113.6" r="1.15" fill="#4B749A" fill-opacity="0.62"/>
<circle cx="632.6" cy="155.6" r="1.15" fill="#4B749A" fill-opacity="0.62"/>
<circle cx="161.6" cy="157.0" r="1.15" fill="#9B3C45" fill-opacity="0.62"/>
<circle cx="203.0" cy="163.0" r="1.15" fill="#9B3C45" fill-opacity="0.62"/>
<circle cx="219.0" cy="146.0" r="1.15" fill="#9B3C45" fill-opacity="0.62"/>
<circle cx="257.4" cy="182.6" r="1.15" fill="#9B3C45" fill-opacity="0.62"/>
<circle cx="252.4" cy="196.6" r="1.15" fill="#9B3C45" fill-opacity="0.62"/>
<circle cx="315.0" cy="191.0" r="1.15" fill="#9B3C45" fill-opacity="0.62"/>
<circle cx="354.0" cy="171.0" r="1.15" fill="#9B3C45" fill-opacity="0.62"/>
<circle cx="438.6" cy="182.4" r="1.15" fill="#9B3C45" fill-opacity="0.62"/>
<circle cx="457.6" cy="134.4" r="1.15" fill="#9B3C45" fill-opacity="0.62"/>
<circle cx="521.0" cy="194.0" r="1.15" fill="#9B3C45" fill-opacity="0.62"/>
<circle cx="547.6" cy="199.4" r="1.15" fill="#9B3C45" fill-opacity="0.62"/>
<circle cx="582.4" cy="199.4" r="1.15" fill="#9B3C45" fill-opacity="0.62"/>
<circle cx="207.6" cy="217.4" r="1.15" fill="#9B3C45" fill-opacity="0.62"/>
<circle cx="288.6" cy="200.0" r="1.15" fill="#9B3C45" fill-opacity="0.62"/>
<circle cx="288.6" cy="267.0" r="1.15" fill="#9B3C45" fill-opacity="0.62"/>
<circle cx="637.6" cy="205.6" r="1.15" fill="#9B3C45" fill-opacity="0.62"/>
<circle cx="630.0" cy="101.0" r="1.15" fill="#9B3C45" fill-opacity="0.62"/>
<circle cx="629.6" cy="159.0" r="1.15" fill="#9B3C45" fill-opacity="0.62"/>
<circle cx="632.2" cy="153.6" r="1.15" fill="#9B3C45" fill-opacity="0.62"/>
<circle cx="635.0" cy="150.0" r="1.15" fill="#9B3C45" fill-opacity="0.62"/>
<circle cx="638.0" cy="149.0" r="1.15" fill="#9B3C45" fill-opacity="0.62"/>
<circle cx="641.0" cy="151.6" r="1.15" fill="#9B3C45" fill-opacity="0.62"/>
<circle cx="644.0" cy="154.0" r="1.15" fill="#9B3C45" fill-opacity="0.62"/>
<circle cx="647.0" cy="156.0" r="1.15" fill="#9B3C45" fill-opacity="0.62"/>
<circle cx="630.0" cy="158.4" r="1.15" fill="#9B3C45" fill-opacity="0.62"/>
<circle cx="288.6" cy="126.0" r="1.15" fill="#A8B050" fill-opacity="0.62"/>
<circle cx="354.0" cy="127.4" r="1.15" fill="#A8B050" fill-opacity="0.62"/>
<circle cx="406.6" cy="149.6" r="1.15" fill="#A8B050" fill-opacity="0.62"/>
<circle cx="458.0" cy="170.6" r="1.15" fill="#A8B050" fill-opacity="0.62"/>
<circle cx="547.6" cy="215.6" r="1.15" fill="#A8B050" fill-opacity="0.62"/>
<circle cx="252.4" cy="170.6" r="1.15" fill="#A8B050" fill-opacity="0.62"/>
<circle cx="638.0" cy="189.0" r="1.15" fill="#A8B050" fill-opacity="0.62"/>
<circle cx="637.4" cy="194.0" r="1.15" fill="#A8B050" fill-opacity="0.62"/>
<circle cx="635.0" cy="199.0" r="1.15" fill="#A8B050" fill-opacity="0.62"/>
<circle cx="633.0" cy="202.0" r="1.15" fill="#A8B050" fill-opacity="0.62"/>
<circle cx="630.0" cy="206.0" r="1.15" fill="#A8B050" fill-opacity="0.62"/>
<circle cx="631.6" cy="211.0" r="1.15" fill="#A8B050" fill-opacity="0.62"/>
<circle cx="630.6" cy="95.2" r="1.15" fill="#A8B050" fill-opacity="0.62"/>
<circle cx="219.0" cy="250.6" r="1.15" fill="#A8B050" fill-opacity="0.62"/>
<circle cx="257.4" cy="241.0" r="1.15" fill="#A8B050" fill-opacity="0.62"/>
<circle cx="438.9" cy="85.2" r="1.15" fill="#A8B050" fill-opacity="0.62"/>
<circle cx="521.0" cy="93.6" r="1.15" fill="#A8B050" fill-opacity="0.62"/>
<circle cx="582.4" cy="85.5" r="1.15" fill="#A8B050" fill-opacity="0.62"/>
<circle cx="203.0" cy="233.6" r="1.15" fill="#A8B050" fill-opacity="0.62"/>
<circle cx="161.6" cy="269.0" r="1.15" fill="#222222" fill-opacity="0.62"/>
<circle cx="207.6" cy="273.4" r="1.15" fill="#222222" fill-opacity="0.62"/>
<circle cx="252.4" cy="278.6" r="1.15" fill="#222222" fill-opacity="0.62"/>
<circle cx="257.4" cy="283.0" r="1.15" fill="#222222" fill-opacity="0.62"/>
<circle cx="315.0" cy="289.4" r="1.15" fill="#222222" fill-opacity="0.62"/>
<circle cx="219.0" cy="298.6" r="1.15" fill="#222222" fill-opacity="0.62"/>
<circle cx="207.6" cy="305.6" r="1.15" fill="#222222" fill-opacity="0.62"/>
<circle cx="219.0" cy="306.6" r="1.15" fill="#222222" fill-opacity="0.62"/>
<circle cx="203.0" cy="313.0" r="1.15" fill="#222222" fill-opacity="0.62"/>
<circle cx="257.4" cy="301.0" r="1.15" fill="#222222" fill-opacity="0.62"/>
<circle cx="288.6" cy="301.0" r="1.15" fill="#222222" fill-opacity="0.62"/>
<circle cx="406.6" cy="289.0" r="1.15" fill="#222222" fill-opacity="0.62"/>
<circle cx="439.0" cy="277.4" r="1.15" fill="#222222" fill-opacity="0.62"/>
<circle cx="521.0" cy="298.6" r="1.15" fill="#222222" fill-opacity="0.62"/>
<circle cx="547.6" cy="292.4" r="1.15" fill="#222222" fill-opacity="0.62"/>
<circle cx="547.6" cy="317.6" r="1.15" fill="#222222" fill-opacity="0.62"/>
<circle cx="582.4" cy="315.0" r="1.15" fill="#222222" fill-opacity="0.62"/>
<circle cx="608.4" cy="295.0" r="1.15" fill="#222222" fill-opacity="0.62"/>
<circle cx="632.4" cy="285.0" r="1.15" fill="#222222" fill-opacity="0.62"/>
<circle cx="637.6" cy="284.0" r="1.15" fill="#222222" fill-opacity="0.62"/>
<circle cx="641.0" cy="287.0" r="1.15" fill="#222222" fill-opacity="0.62"/>
<circle cx="644.0" cy="288.0" r="1.15" fill="#222222" fill-opacity="0.62"/>
<circle cx="638.0" cy="289.4" r="1.15" fill="#222222" fill-opacity="0.62"/>
<circle cx="630.0" cy="293.4" r="1.15" fill="#222222" fill-opacity="0.62"/>
<circle cx="635.0" cy="294.0" r="1.15" fill="#222222" fill-opacity="0.62"/>
<circle cx="457.6" cy="335.0" r="1.15" fill="#222222" fill-opacity="0.62"/>
<circle cx="207.6" cy="230.0" r="1.15" fill="#222222" fill-opacity="0.62"/>
<circle cx="161.6" cy="367.0" r="1.15" fill="#222222" fill-opacity="0.62"/>
<circle cx="203.0" cy="359.6" r="1.15" fill="#222222" fill-opacity="0.62"/>
<circle cx="521.0" cy="361.6" r="1.15" fill="#222222" fill-opacity="0.62"/>
<circle cx="582.4" cy="364.4" r="1.15" fill="#222222" fill-opacity="0.62"/>
<circle cx="315.0" cy="363.6" r="1.15" fill="#222222" fill-opacity="0.62"/>
<circle cx="457.6" cy="368.6" r="1.15" fill="#222222" fill-opacity="0.62"/>
<circle cx="406.6" cy="368.0" r="1.15" fill="#222222" fill-opacity="0.62"/>
<circle cx="161.6" cy="310.4" r="1.15" fill="#986E52" fill-opacity="0.62"/>
<circle cx="203.0" cy="323.6" r="1.15" fill="#986E52" fill-opacity="0.62"/>
<circle cx="252.4" cy="294.0" r="1.15" fill="#986E52" fill-opacity="0.62"/>
<circle cx="406.6" cy="300.4" r="1.15" fill="#986E52" fill-opacity="0.62"/>
<circle cx="354.0" cy="311.0" r="1.15" fill="#986E52" fill-opacity="0.62"/>
<circle cx="207.6" cy="369.0" r="1.15" fill="#AE7D59" fill-opacity="0.62"/>
<circle cx="219.0" cy="365.0" r="1.15" fill="#AE7D59" fill-opacity="0.62"/>
<circle cx="257.4" cy="361.0" r="1.15" fill="#AE7D59" fill-opacity="0.62"/>
<circle cx="547.6" cy="378.0" r="1.15" fill="#AE7D59" fill-opacity="0.62"/>
<circle cx="608.0" cy="378.4" r="1.15" fill="#AE7D59" fill-opacity="0.62"/>
<circle cx="631.0" cy="379.0" r="1.15" fill="#AE7D59" fill-opacity="0.62"/>
<circle cx="637.4" cy="379.0" r="1.15" fill="#AE7D59" fill-opacity="0.62"/>
<circle cx="582.4" cy="298.4" r="1.15" fill="#DECC9A" fill-opacity="0.62"/>
<circle cx="633.0" cy="306.4" r="1.15" fill="#DECC9A" fill-opacity="0.62"/>
<circle cx="638.0" cy="311.0" r="1.15" fill="#DECC9A" fill-opacity="0.62"/>
<circle cx="631.6" cy="332.0" r="1.15" fill="#4B7A6D" fill-opacity="0.62"/>
<circle cx="631.6" cy="344.0" r="1.15" fill="#4B7A6D" fill-opacity="0.62"/>
<circle cx="608.0" cy="184.0" r="1.15" fill="#808080" fill-opacity="0.62"/>
<circle cx="608.0" cy="209.4" r="1.15" fill="#808080" fill-opacity="0.62"/>
<rect x="628.5" y="373.6" width="11.7" height="3" fill="#F2B3B5" fill-opacity="0.75"/>
<rect x="640.2" y="373.4" width="11" height="3.4" fill="#D99A62" fill-opacity="0.85"/>
<path d="M59.6,97.4L63.2,101.0L59.6,104.6L56.0,101.0Z" fill="#2A7CC8" fill-opacity="0.58"/>
<path d="M59.6,147.1L63.2,150.7L59.6,154.3L56.0,150.7Z" fill="#DD1F30" fill-opacity="0.58"/>
<path d="M59.6,176.2L63.2,179.8L59.6,183.4L56.0,179.8Z" fill="#5DB12C" fill-opacity="0.58"/>
<path d="M59.6,314.7L63.2,318.3L59.6,321.9L56.0,318.3Z" fill="#222222" fill-opacity="0.58"/>
<path d="M59.6,321.7L63.2,325.3L59.6,328.9L56.0,325.3Z" fill="#B8652C" fill-opacity="0.58"/>
<path d="M59.6,337.1L63.2,340.7L59.6,344.3L56.0,340.7Z" fill="#D5722B" fill-opacity="0.58"/>
<path d="M651.6,68.4L655.2,72.0L651.6,75.6L648.0,72.0Z" fill="#2A7CC8" fill-opacity="0.58"/>
<path d="M651.6,188.0L655.2,191.6L651.6,195.2L648.0,191.6Z" fill="#DD1F30" fill-opacity="0.58"/>
<path d="M651.6,191.1L655.2,194.7L651.6,198.3L648.0,194.7Z" fill="#5DB12C" fill-opacity="0.58"/>
<path d="M651.6,276.8L655.2,280.4L651.6,284.0L648.0,280.4Z" fill="#222222" fill-opacity="0.58"/>
<path d="M651.6,288.1L655.2,291.7L651.6,295.3L648.0,291.7Z" fill="#F0CC68" fill-opacity="0.35"/>
<path d="M651.6,372.2L655.2,375.8L651.6,379.4L648.0,375.8Z" fill="#D5722B" fill-opacity="0.58"/>
</g>
<line x1="27.8" x2="29.5" y1="381.50" y2="381.50" stroke="#333" stroke-width="0.8"/>
<text x="26.9" y="384.00" font-size="7.2" fill="#4D4D4D" text-anchor="end">0%</text>
<line x1="27.8" x2="29.5" y1="291.50" y2="291.50" stroke="#333" stroke-width="0.8"/>
<text x="26.9" y="294.00" font-size="7.2" fill="#4D4D4D" text-anchor="end">10%</text>
<line x1="27.8" x2="29.5" y1="201.50" y2="201.50" stroke="#333" stroke-width="0.8"/>
<text x="26.9" y="204.00" font-size="7.2" fill="#4D4D4D" text-anchor="end">20%</text>
<line x1="27.8" x2="29.5" y1="111.50" y2="111.50" stroke="#333" stroke-width="0.8"/>
<text x="26.9" y="114.00" font-size="7.2" fill="#4D4D4D" text-anchor="end">30%</text>
<line x1="27.8" x2="29.5" y1="21.50" y2="21.50" stroke="#333" stroke-width="0.8"/>
<text x="26.9" y="24.00" font-size="7.2" fill="#4D4D4D" text-anchor="end">40%</text>
<line x1="62.00" x2="62.00" y1="396.6" y2="398.5" stroke="#333" stroke-width="0.8"/>
<text x="62.00" y="404.8" font-size="7.15" fill="#4D4D4D" text-anchor="middle">Jun 2019</text>
<line x1="99.22" x2="99.22" y1="396.6" y2="398.5" stroke="#333" stroke-width="0.8"/>
<text x="99.22" y="404.8" font-size="7.15" fill="#4D4D4D" text-anchor="middle">Sep 2019</text>
<line x1="136.04" x2="136.04" y1="396.6" y2="398.5" stroke="#333" stroke-width="0.8"/>
<text x="136.04" y="404.8" font-size="7.15" fill="#4D4D4D" text-anchor="middle">Dec 2019</text>
<line x1="172.86" x2="172.86" y1="396.6" y2="398.5" stroke="#333" stroke-width="0.8"/>
<text x="172.86" y="404.8" font-size="7.15" fill="#4D4D4D" text-anchor="middle">Mar 2020</text>
<line x1="210.08" x2="210.08" y1="396.6" y2="398.5" stroke="#333" stroke-width="0.8"/>
<text x="210.08" y="404.8" font-size="7.15" fill="#4D4D4D" text-anchor="middle">Jun 2020</text>
<line x1="247.31" x2="247.31" y1="396.6" y2="398.5" stroke="#333" stroke-width="0.8"/>
<text x="247.31" y="404.8" font-size="7.15" fill="#4D4D4D" text-anchor="middle">Sep 2020</text>
<line x1="284.13" x2="284.13" y1="396.6" y2="398.5" stroke="#333" stroke-width="0.8"/>
<text x="284.13" y="404.8" font-size="7.15" fill="#4D4D4D" text-anchor="middle">Dec 2020</text>
<line x1="320.54" x2="320.54" y1="396.6" y2="398.5" stroke="#333" stroke-width="0.8"/>
<text x="320.54" y="404.8" font-size="7.15" fill="#4D4D4D" text-anchor="middle">Mar 2021</text>
<line x1="357.76" x2="357.76" y1="396.6" y2="398.5" stroke="#333" stroke-width="0.8"/>
<text x="357.76" y="404.8" font-size="7.15" fill="#4D4D4D" text-anchor="middle">Jun 2021</text>
<line x1="394.99" x2="394.99" y1="396.6" y2="398.5" stroke="#333" stroke-width="0.8"/>
<text x="394.99" y="404.8" font-size="7.15" fill="#4D4D4D" text-anchor="middle">Sep 2021</text>
<line x1="431.80" x2="431.80" y1="396.6" y2="398.5" stroke="#333" stroke-width="0.8"/>
<text x="431.80" y="404.8" font-size="7.15" fill="#4D4D4D" text-anchor="middle">Dec 2021</text>
<line x1="468.22" x2="468.22" y1="396.6" y2="398.5" stroke="#333" stroke-width="0.8"/>
<text x="468.22" y="404.8" font-size="7.15" fill="#4D4D4D" text-anchor="middle">Mar 2022</text>
<line x1="505.44" x2="505.44" y1="396.6" y2="398.5" stroke="#333" stroke-width="0.8"/>
<text x="505.44" y="404.8" font-size="7.15" fill="#4D4D4D" text-anchor="middle">Jun 2022</text>
<line x1="542.66" x2="542.66" y1="396.6" y2="398.5" stroke="#333" stroke-width="0.8"/>
<text x="542.66" y="404.8" font-size="7.15" fill="#4D4D4D" text-anchor="middle">Sep 2022</text>
<line x1="579.48" x2="579.48" y1="396.6" y2="398.5" stroke="#333" stroke-width="0.8"/>
<text x="579.48" y="404.8" font-size="7.15" fill="#4D4D4D" text-anchor="middle">Dec 2022</text>
<line x1="615.90" x2="615.90" y1="396.6" y2="398.5" stroke="#333" stroke-width="0.8"/>
<text x="615.90" y="404.8" font-size="7.15" fill="#4D4D4D" text-anchor="middle">Mar 2023</text>
<line x1="653.12" x2="653.12" y1="396.6" y2="398.5" stroke="#333" stroke-width="0.8"/>
<text x="653.12" y="404.8" font-size="7.15" fill="#4D4D4D" text-anchor="middle">Jun 2023</text>
<rect x="690.5" y="147.00" width="13.8" height="114.80" fill="#F2F2F2"/>
<line x1="692.2" x2="703.0" y1="154.18" y2="154.18" stroke="#2A7CC8" stroke-width="2"/>
<text x="708.5" y="157.28" font-size="8.95" fill="#000">PP</text>
<line x1="692.2" x2="703.0" y1="168.53" y2="168.53" stroke="#DD1F30" stroke-width="2"/>
<text x="708.5" y="171.62" font-size="8.95" fill="#000">PSOE</text>
<line x1="692.2" x2="703.0" y1="182.88" y2="182.88" stroke="#5DB12C" stroke-width="2"/>
<text x="708.5" y="185.97" font-size="8.95" fill="#000">Vox</text>
<line x1="692.2" x2="703.0" y1="197.23" y2="197.23" stroke="#222222" stroke-width="2"/>
<text x="708.5" y="200.33" font-size="8.95" fill="#000">MDyC</text>
<line x1="692.2" x2="703.0" y1="211.58" y2="211.58" stroke="#B8652C" stroke-width="2"/>
<text x="708.5" y="214.68" font-size="8.95" fill="#000">Caballas</text>
<line x1="692.2" x2="703.0" y1="225.93" y2="225.93" stroke="#D5722B" stroke-width="2"/>
<text x="708.5" y="229.03" font-size="8.95" fill="#000">CS</text>
<line x1="692.2" x2="703.0" y1="240.28" y2="240.28" stroke="#F0CC68" stroke-width="2"/>
<text x="708.5" y="243.38" font-size="8.95" fill="#000">CY</text>
<line x1="692.2" x2="703.0" y1="254.62" y2="254.62" stroke="#2B8A70" stroke-width="2"/>
<text x="708.5" y="257.73" font-size="8.95" fill="#000">CA</text>
</svg></body></html>
